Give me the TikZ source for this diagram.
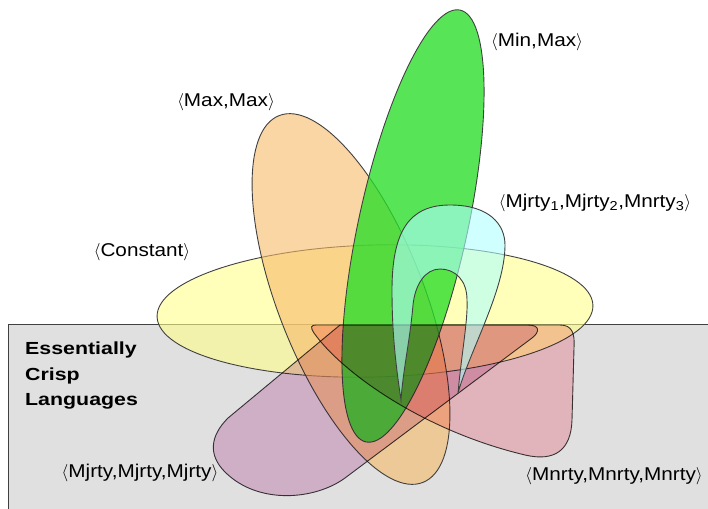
\documentclass[tikz,border=0pt]{standalone}
\usepackage{fontspec}
\setmainfont{Liberation Sans}[FakeStretch=1.12]
\newfontfamily\crispfont{Liberation Sans}[FakeStretch=1.22]
\usetikzlibrary{positioning}

\definecolor{crispgray}{RGB}{224,224,224}
\definecolor{constcol}{RGB}{255,255,140}
\definecolor{maxmaxcol}{RGB}{247,186,105}
\definecolor{minmaxcol}{RGB}{40,222,40}
\definecolor{mixedcol}{RGB}{175,255,255}
\definecolor{mjrtycol}{RGB}{236,200,226}
\definecolor{mnrtycol}{RGB}{255,206,212}

\begin{document}
\begin{tikzpicture}[x=1pt, y=-1pt,
    outline/.style={draw=black!75, line width=0.9pt},
    constset/.style={outline, fill=constcol, fill opacity=0.6},
    maxmaxset/.style={outline, fill=maxmaxcol, fill opacity=0.6},
    minmaxset/.style={outline, fill=minmaxcol, fill opacity=0.78},
    mixedset/.style={outline, fill=mixedcol, fill opacity=0.6},
    mjrtyset/.style={outline, fill=mjrtycol},
    mnrtyset/.style={outline, fill=mnrtycol},
    lbl/.style={font=\fontsize{18.5}{22}\selectfont, inner sep=0pt},
    crisplbl/.style={font=\crispfont\fontsize{17.5}{25.5}\selectfont\bfseries, align=left, inner sep=0pt}]

    \useasboundingbox (0,0) rectangle (708,508);

    % essentially crisp region
    \draw[outline, fill=crispgray] (8,324) rectangle (720,520);

    % constant
    \draw[constset, rotate around={1.5:(375,311)}] (375,311) ellipse [x radius=218pt, y radius=66pt];

    % max,max
    \draw[maxmaxset, rotate around={-68.6:(351,299)}] (351,299) ellipse [x radius=197pt, y radius=73pt];

    % min,max
    \draw[minmaxset, rotate around={77.7:(413,226)}] (413,226) ellipse [x radius=221pt, y radius=54.5pt];

    \begin{scope}[blend mode=multiply]
    % mjrty,mjrty,mjrty
    \draw[mjrtyset] (340,325) -- (528,325) .. controls (540,325) and (540,332) .. (532,338)
        -- (345,478) .. controls (315,500) and (258,505) .. (225,472)
        .. controls (208,455) and (210,436) .. (228,418) -- cycle;

    % mnrty,mnrty,mnrty
    \draw[mnrtyset] (316,325) -- (560,325) .. controls (572,325) and (575,333) .. (574,348)
        -- (572,420) .. controls (571,450) and (555,462) .. (525,455)
        .. controls (420,430) and (340,370) .. (314,333)
        .. controls (310,327) and (311,325) .. (316,325) -- cycle;
    \end{scope}

    % mjrty1,mjrty2,mnrty3
    \draw[mixedset] (401,400) .. controls (395,360) and (392,330) .. (392,290)
        .. controls (392,230) and (410,205) .. (450,205)
        .. controls (490,205) and (505,225) .. (505,245)
        .. controls (505,290) and (470,350) .. (458,393)
        .. controls (462,350) and (468,320) .. (467,300)
        .. controls (467,280) and (455,269) .. (440,269)
        .. controls (425,269) and (415,285) .. (413,305)
        .. controls (410,340) and (403,370) .. (401,400) -- cycle;

    % labels
    \node[lbl] (minmax) at (537,42) {$\langle$Min,Max$\rangle$};
    \node[lbl] (maxmax) at (226,102) {$\langle$Max,Max$\rangle$};
    \node[lbl] (mixed) at (595,203) {$\langle$Mjrty\textsubscript{1},Mjrty\textsubscript{2},Mnrty\textsubscript{3}$\rangle$};
    \node[lbl] (const) at (142,252) {$\langle$Constant$\rangle$};
    \node[lbl] (mjrty) at (140,473) {$\langle$Mjrty,Mjrty,Mjrty$\rangle$};
    \node[lbl] (mnrty) at (614,476) {$\langle$Mnrty,Mnrty,Mnrty$\rangle$};
    \node[crisplbl, anchor=north west] (crisp) at (25,342) {Essentially\\Crisp\\Languages};

\end{tikzpicture}
\end{document}
